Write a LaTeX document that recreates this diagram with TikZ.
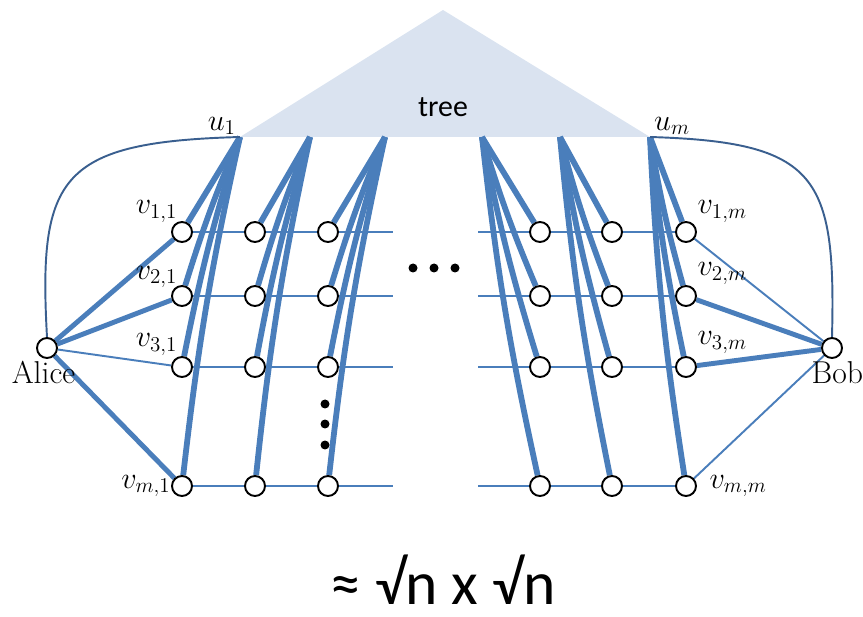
\documentclass[tikz,border=0pt]{standalone}
\usepackage{fontspec}
\newfontfamily\treefont{Carlito}
\usetikzlibrary{positioning,backgrounds}

\definecolor{treefill}{HTML}{DAE3F0}
\definecolor{edgeblue}{HTML}{4A7EBB}
\definecolor{curveblue}{HTML}{3A5F8F}

\tikzset{
  vtx/.style={circle, draw=black, line width=1.1pt, fill=white,
              minimum size=0.4cm, inner sep=0pt},
  lbl/.style={font=\fontsize{17}{20}\selectfont, inner sep=1pt},
  name lbl/.style={font=\fontsize{18}{21}\selectfont, inner sep=1pt},
  row line/.style={edgeblue, line width=1.4pt},
  thin edge/.style={edgeblue, line width=1.1pt},
  thick edge/.style={edgeblue, line width=2.8pt},
  tree edge/.style={edgeblue, line width=3.3pt},
  side curve/.style={curveblue, line width=1.1pt},
  dot/.style={circle, fill=black, minimum size=0.18cm, inner sep=0pt},
}

\begin{document}
\begin{tikzpicture}[x=0.02cm, y=0.02cm]
    \useasboundingbox (0,0) rectangle (863,616);

    % tree corners and leaves
    \coordinate (apex) at (443,606);
    \foreach \c/\x in {1/240,2/310,3/385,4/482,5/560,6/650}
      \coordinate (t\c) at (\x,479);
    \node[font=\treefont\fontsize{17}{20}\selectfont] (tree) at (443,509) {tree};

    % grid vertices
    \foreach \c/\x in {1/182,2/255,3/328,4/540,5/612,6/686}
      \foreach \r/\y in {1/384,2/320,3/249,4/130}
        \node[vtx] (v\r\c) at (\x,\y) {};
    \foreach \r/\y in {1/384,2/320,3/249,4/130} {
      \coordinate (gapL\r) at (393,\y);
      \coordinate (gapR\r) at (478,\y);
    }

    % end points
    \node[vtx] (alice) at (47,268) {};
    \node[vtx] (bob) at (832,268) {};
    \node[name lbl, below=0pt of alice, xshift=-2pt] (alicelbl) {Alice};
    \node[name lbl, below=0pt of bob, xshift=3pt] (boblbl) {Bob};

    % vertex labels
    \node[lbl, anchor=south east] (u1lbl) at (238,479) {$u_1$};
    \node[lbl, anchor=south west] (umlbl) at (652,479) {$u_m$};
    \node[lbl, above left=0pt and -3pt of v11] (v11lbl) {$v_{1,1}$};
    \node[lbl, above left=-1pt and -3pt of v21] (v21lbl) {$v_{2,1}$};
    \node[lbl, above left=1pt and -3pt of v31] (v31lbl) {$v_{3,1}$};
    \node[lbl, left=-1pt of v41] (v41lbl) {$v_{m,1}$};
    \node[lbl, above right=0pt and 1pt of v16] (v16lbl) {$v_{1,m}$};
    \node[lbl, above right=1pt and 1pt of v26] (v26lbl) {$v_{2,m}$};
    \node[lbl, above right=2pt and 1pt of v36] (v36lbl) {$v_{3,m}$};
    \node[lbl, right=6pt of v46] (v46lbl) {$v_{m,m}$};

    % dots
    \node[dot] (hdot1) at (413,348) {};
    \node[dot] (hdot2) at (434,348) {};
    \node[dot] (hdot3) at (455,348) {};
    \node[dot] (vdot1) at (325,212) {};
    \node[dot] (vdot2) at (325,192) {};
    \node[dot] (vdot3) at (325,171) {};

    % size
    \node[font=\treefont\fontsize{35}{40}\selectfont] (size) at (443,36) {≈ √n x √n};

    \begin{scope}[on background layer]
      \fill[treefill] (t1) -- (apex) -- (t6) -- cycle;
      % rows
      \foreach \r in {1,2,3,4} {
        \draw[row line] (v\r1) -- (v\r2) -- (v\r3) -- (gapL\r);
        \draw[row line] (gapR\r) -- (v\r4) -- (v\r5) -- (v\r6);
      }
      % tree to columns
      \foreach \c in {1,...,6} {
        \draw[tree edge] (t\c) -- (v1\c);
        \foreach \r in {2,3,4}
          \draw[tree edge] (t\c) to[bend right=3] (v\r\c);
      }
      % Alice and Bob
      \draw[thick edge] (alice) -- (v11);
      \draw[thick edge] (alice) -- (v21);
      \draw[thin edge] (alice) -- (v31);
      \draw[thick edge] (alice) -- (v41);
      \draw[thin edge] (bob) -- (v16);
      \draw[thick edge] (bob) -- (v26);
      \draw[thick edge] (bob) -- (v36);
      \draw[thin edge] (bob) -- (v46);
      \draw[side curve] (alice.north) .. controls (38,440) and (60,474) .. (t1);
      \draw[side curve] (bob.north) .. controls (836,440) and (818,474) .. (t6);
    \end{scope}
\end{tikzpicture}
\end{document}
